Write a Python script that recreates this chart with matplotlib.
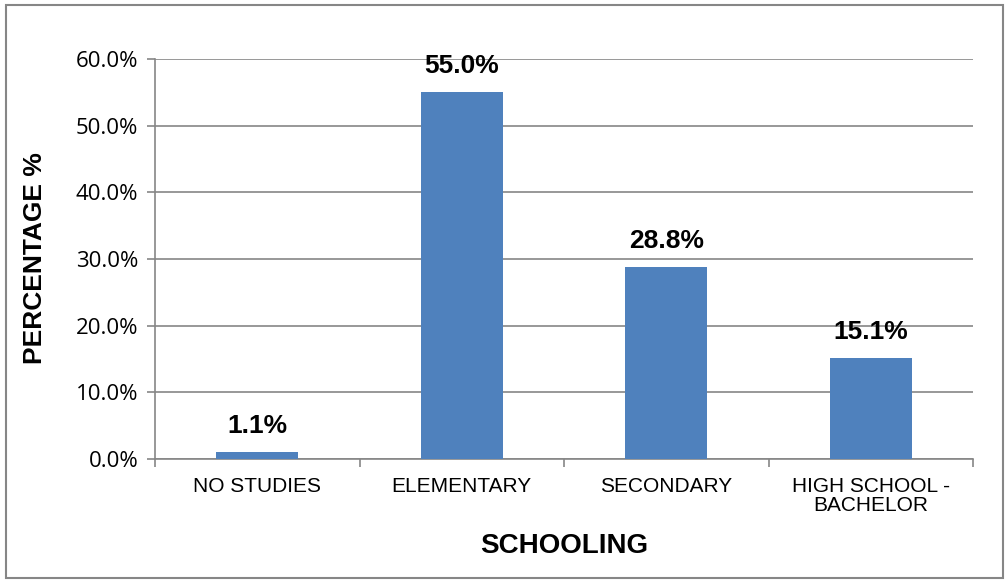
import matplotlib
matplotlib.use("Agg")
import matplotlib.pyplot as plt
from matplotlib.patches import Rectangle
import numpy as np

# chart data
categories = ["NO STUDIES", "ELEMENTARY", "SECONDARY", "HIGH SCHOOL -\nBACHELOR"]
percentages = [1.1, 55.0, 28.8, 15.1]
y_ticks = [0, 10, 20, 30, 40, 50, 60]

bar_color = "#4F81BD"
grid_color = "#868686"

fig = plt.figure(figsize=(10.08, 5.8), dpi=100)
ax = fig.add_axes([155 / 1008, 1 - 459 / 580, 818 / 1008, 400 / 580])

x = np.arange(len(categories))
bars = ax.bar(x, percentages, width=0.4, color=bar_color, zorder=3)

ax.set_xlim(-0.5, len(categories) - 0.5)
ax.set_ylim(0, 60)
ax.set_yticks(y_ticks)
ax.set_yticklabels([f"{v:.1f}%" for v in y_ticks], fontsize=16, family="Open Sans")
ax.yaxis.grid(True, color=grid_color, linewidth=1.2, zorder=0)

# category labels centred, ticks on category boundaries
ax.set_xticks(x)
ax.set_xticklabels(categories, fontsize=15, family="Liberation Sans", linespacing=1.0)
ax.tick_params(axis="x", length=0, pad=13)
ax.set_xticks(np.arange(len(categories) + 1) - 0.5, minor=True)
ax.tick_params(axis="x", which="minor", length=6, width=1.2, color=grid_color, direction="out")
ax.tick_params(axis="y", length=6, width=1.2, color=grid_color, pad=6)

for side in ["top", "right"]:
    ax.spines[side].set_visible(False)
for side in ["left", "bottom"]:
    ax.spines[side].set_color(grid_color)
    ax.spines[side].set_linewidth(1.2)

# value labels
for bar, val in zip(bars, percentages):
    ax.annotate(f"{val:.1f}%", (bar.get_x() + bar.get_width() / 2, bar.get_height()),
                xytext=(0, 10), textcoords="offset points", ha="center", va="bottom",
                fontsize=19, fontweight="bold", family="Liberation Sans")

fig.text(35 / 1008, 1 - 258 / 580, "PERCENTAGE %", rotation=90, ha="center", va="center",
         fontsize=19, fontweight="bold", family="Liberation Sans")
fig.text(564 / 1008, 1 - 546 / 580, "SCHOOLING", ha="center", va="center",
         fontsize=20, fontweight="bold", family="Liberation Sans")

# outer chart border
fig.patches.append(Rectangle((6 / 1008, 2 / 580), 997 / 1008, 573 / 580,
                             transform=fig.transFigure, fill=False,
                             edgecolor=grid_color, linewidth=1.5))

fig.savefig("out.png", dpi=100)
